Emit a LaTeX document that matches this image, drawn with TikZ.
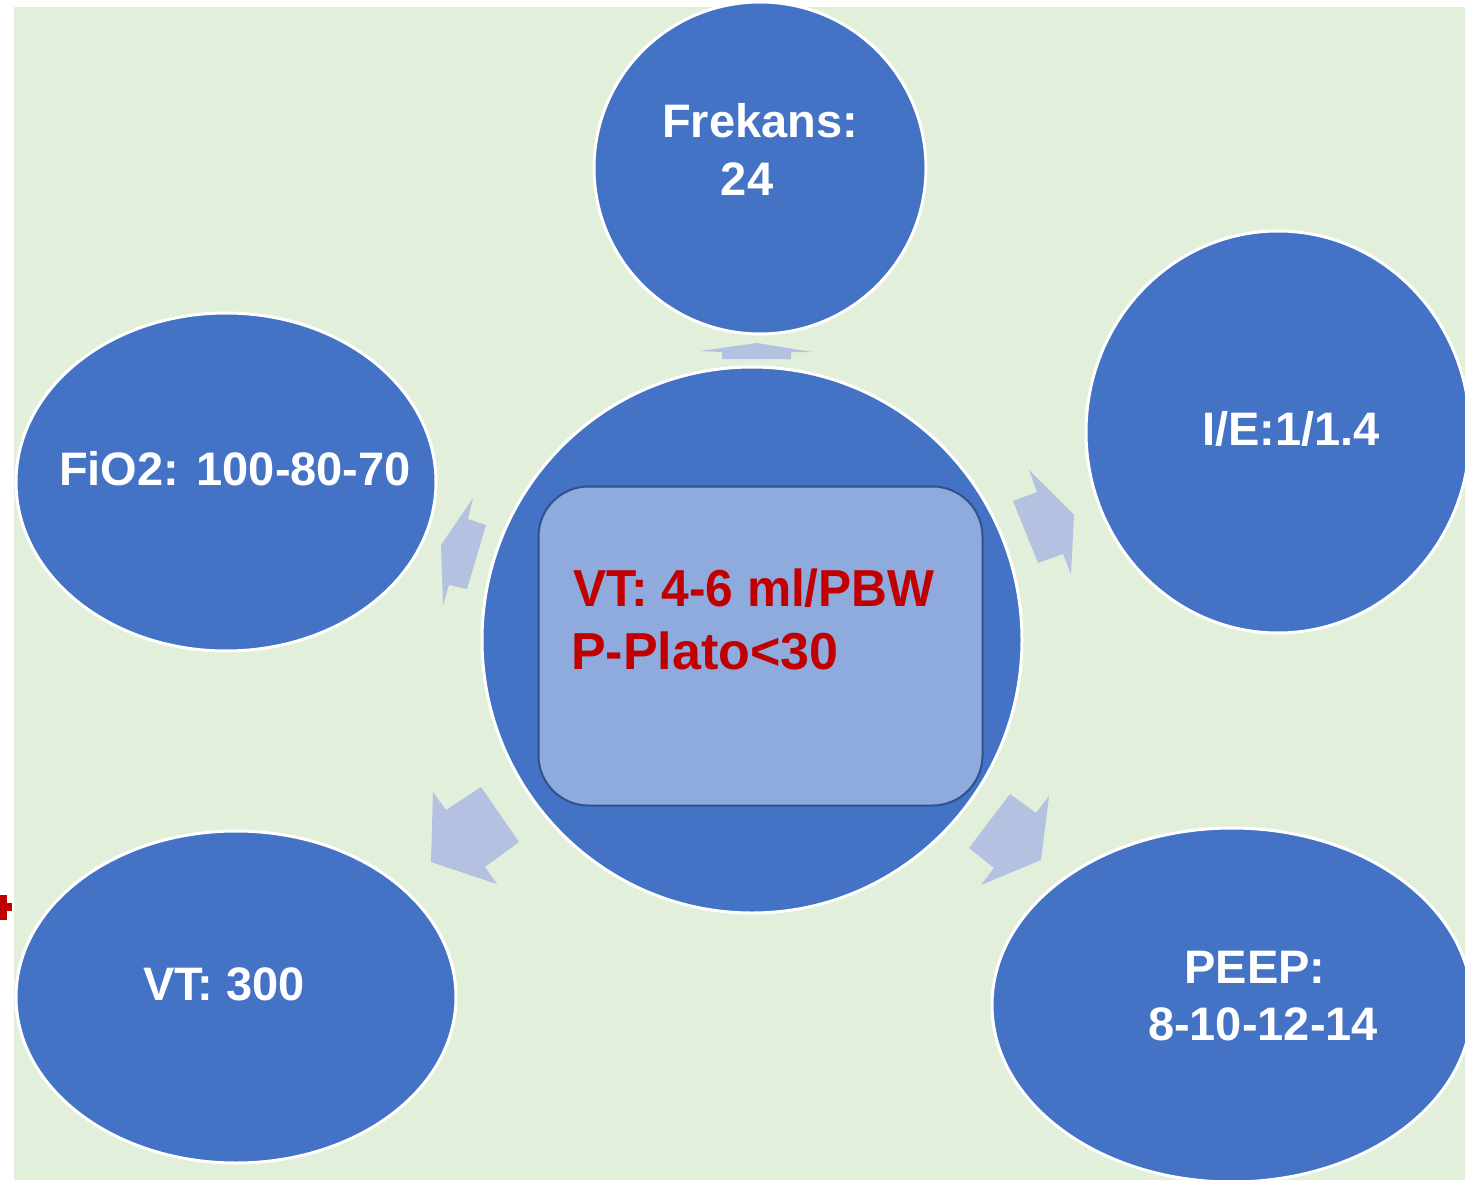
\documentclass[tikz,border=0pt]{standalone}
\usepackage{fontspec}
\setmainfont{Liberation Sans}
\usetikzlibrary{shapes.geometric}
\definecolor{bgreen}{HTML}{E2EFDA}
\definecolor{cblue}{HTML}{4472C4}
\definecolor{rblue}{HTML}{8FAADC}
\definecolor{rborder}{HTML}{2F528F}
\definecolor{arr}{HTML}{B4C1E1}
\definecolor{redt}{HTML}{C00000}
\tikzset{
  bubble/.style={ellipse, fill=cblue, draw=white, line width=3pt, inner sep=0pt},
  wtext/.style={text=white, font=\bfseries\fontsize{47}{58}\selectfont, inner sep=0pt, anchor=base},
  rtext/.style={text=redt, font=\bfseries\fontsize{52}{64}\selectfont, inner sep=0pt, anchor=base west},
  blockarrow/.style={fill=arr, draw=none}
}
\begin{document}
\begin{tikzpicture}[x=1pt,y=-1pt]
\useasboundingbox (0,0) rectangle (1465,1180);
\fill[white] (0,0) rectangle (1465,1180);
\fill[bgreen] (14,7) rectangle (1465,1180);
\begin{scope}
\clip (14,0) rectangle (1465,1180);
% bubbles
\node[bubble, minimum width=332pt, minimum height=332pt] (freq) at (760,168) {};
\node[bubble, minimum width=384pt, minimum height=402pt] (ie) at (1278,432) {};
\node[bubble, minimum width=420pt, minimum height=338pt] (fio) at (226,482) {};
\node[bubble, minimum width=540pt, minimum height=546pt] (center) at (752,640) {};
\node[bubble, minimum width=440pt, minimum height=332pt] (vt) at (236,997) {};
\node[bubble, minimum width=480pt, minimum height=354pt] (peep) at (1232,1005) {};
\end{scope}
% central rounded box
\node[draw=rborder, line width=2pt, fill=rblue, rounded corners=50pt,
      minimum width=444pt, minimum height=319pt, inner sep=0pt] (box) at (760.5,646) {};
% block arrows
\fill[blockarrow] (700,351) -- (757,343) -- (812,352) -- (791,352) -- (791,359) -- (722,359) -- (722,352) -- cycle;
\fill[blockarrow] (1029,470) -- (1074,515) -- (1071,574) -- (1063,554) -- (1038,563) -- (1013,501) -- (1037,492) -- cycle;
\fill[blockarrow] (473,498) -- (468,519) -- (486,525) -- (467,589) -- (449,585) -- (443,605) -- (441,545) -- cycle;
\fill[blockarrow] (433,792) -- (446,810) -- (481,787) -- (519,842) -- (485,867) -- (497,884) -- (431,862) -- cycle;
\fill[blockarrow] (1010,794) -- (1036,813) -- (1049,796) -- (1041,860) -- (981,885) -- (994,868) -- (969,848) -- cycle;
% texts
\node[wtext] (t1a) at (760,138) {Frekans:};
\node[wtext] (t1b) at (747,196) {24};
\node[wtext] (t2) at (1291,445) {I/E:1/1.4};
\node[wtext] (t3) at (235,485) {FiO2: 100-80-70};
\node[wtext] (t4) at (224,1000) {VT: 300};
\node[wtext] (t5a) at (1255,983) {PEEP:};
\node[wtext] (t5b) at (1263,1040) {8-10-12-14};
\node[rtext] (r1) at (573,606) {\scalebox{0.955}[1]{VT: 4-6 ml/PBW}};
\node[rtext] (r2) at (571,669) {P-Plato<30};
% red plus at the left edge
\fill[redt] (0,895) rectangle (7,920);
\fill[redt] (0,903) rectangle (12,911);
\end{tikzpicture}
\end{document}
